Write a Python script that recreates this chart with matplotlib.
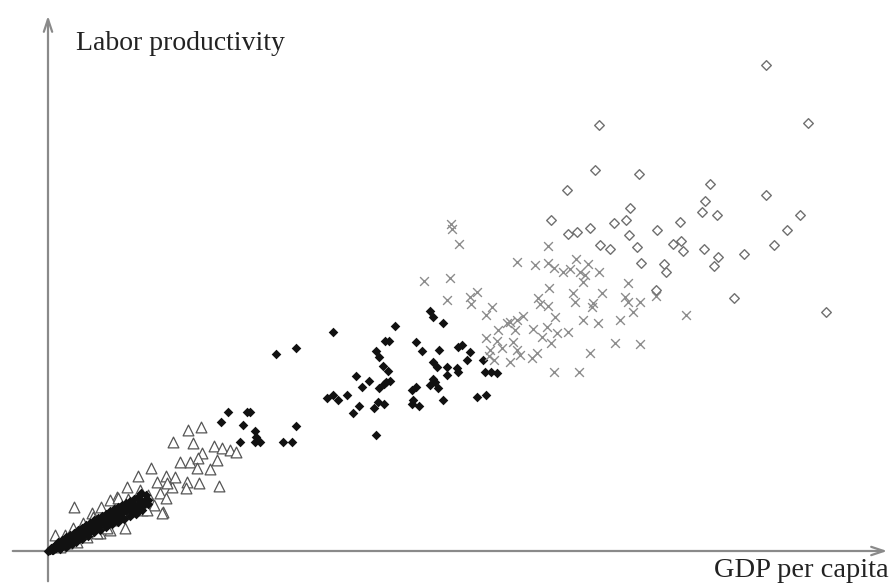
import matplotlib
matplotlib.use("Agg")
import matplotlib.pyplot as plt

# Data (GDP per capita, labor productivity) in arbitrary units
open_diamond_x = [718, 551, 760, 547, 591, 519, 662, 718, 657, 654, 669, 752, 503, 582, 578, 566, 542, 520, 529, 609,
                  632, 581, 739, 552, 562, 589, 625, 633, 635, 656, 670, 666, 696, 726, 593, 616, 618, 608, 686, 778]
open_diamond_y = [486, 426, 428, 381, 377, 361, 367, 356, 350, 339, 336, 336, 331, 343, 331, 328, 323, 317, 319, 321,
                  329, 316, 321, 306, 302, 304, 307, 310, 300, 302, 294, 285, 297, 306, 288, 287, 279, 261, 253, 239]

cross_x = [403, 404, 411, 500, 469, 487, 500, 506, 528, 540, 515, 522, 532, 537, 551, 535, 376, 402, 580, 501,
           554, 525, 429, 422, 399, 423, 490, 492, 500, 527, 544, 545, 577, 580, 592, 608, 585, 638, 444, 438,
           535, 550, 572, 507, 462, 469, 475, 450, 467, 485, 499, 509, 520, 438, 449, 465, 494, 503, 442, 454,
           469, 472, 489, 484, 441, 446, 462, 567, 592, 542, 506, 531, 459]
cross_y = [327, 322, 307, 305, 289, 286, 288, 283, 292, 287, 279, 282, 279, 276, 279, 269, 270, 273, 268, 263,
           258, 258, 259, 254, 251, 247, 253, 247, 245, 249, 244, 248, 254, 249, 249, 255, 239, 236, 244, 236,
           231, 228, 231, 234, 229, 231, 235, 221, 221, 222, 224, 218, 219, 213, 210, 209, 214, 208, 201, 203,
           201, 196, 198, 193, 195, 191, 189, 208, 207, 198, 179, 179, 228]

filled_x = [382, 385, 395, 347, 285, 248, 228, 337, 341, 368, 374, 391, 410, 414, 422, 419, 328, 331, 335, 340,
            338, 342, 336, 331, 308, 321, 314, 385, 389, 399, 409, 410, 399, 385, 387, 382, 390, 368, 364, 435,
            437, 443, 449, 279, 285, 290, 299, 311, 305, 326, 330, 336, 365, 364, 371, 395, 429, 438, 328, 248,
            235, 244, 207, 208, 207, 212, 202, 180, 199, 173, 195, 192,
            0, 2, 3, 4, 5, 6, 7, 8, 9, 10, 11, 12, 13, 14, 15, 16, 17, 18, 19, 20,
            21, 22, 23, 24, 25, 26, 27, 28, 29, 30, 31, 32, 33, 34, 35, 36, 37, 38, 39, 40,
            41, 42, 44, 45, 46, 47, 48, 50, 51, 52, 54, 55, 56, 58, 59, 60, 62, 63, 65, 66,
            68, 70, 72, 74, 76, 78, 80, 83, 86, 88, 91, 94, 97, 100, 70, 75, 85, 90, 60, 50,
            40, 30, 20, 92, 64, 57, 43, 36, 26,
            10, 14, 18, 22, 26, 30, 34, 38, 42, 46, 50, 54, 58, 62, 66, 70, 74, 78, 82, 86,
            90, 12, 18, 24, 28, 34, 40, 46, 52, 58, 64, 70, 76, 82, 88, 94, 84, 78, 72, 66,
            56, 44, 32, 22, 16, 8, 5, 96, 100, 98, 93]
filled_y = [240, 234, 228, 225, 219, 203, 197, 210, 210, 209, 200, 201, 204, 206, 199, 191, 200, 194, 185, 180,
            169, 170, 167, 163, 175, 170, 164, 189, 184, 184, 183, 179, 176, 172, 169, 166, 163, 164, 161, 191,
            179, 179, 178, 153, 156, 151, 156, 145, 138, 143, 149, 147, 151, 147, 145, 151, 154, 156, 116, 125,
            109, 109, 120, 114, 109, 109, 139, 139, 139, 129, 126, 109,
            0, 1, 3, 1, 4, 2, 5, 3, 6, 4, 7, 5, 8, 6, 9, 7, 11, 8, 12, 9,
            13, 10, 15, 12, 16, 13, 17, 14, 19, 15, 20, 16, 22, 18, 21, 19, 24, 20, 25, 22,
            26, 23, 27, 24, 29, 25, 30, 27, 31, 28, 33, 30, 34, 31, 36, 32, 37, 34, 38, 35,
            40, 37, 41, 38, 43, 40, 44, 42, 46, 43, 48, 45, 50, 47, 30, 33, 38, 40, 28, 24,
            18, 12, 6, 52, 36, 32, 23, 17, 11,
            9, 11, 14, 16, 18, 21, 23, 26, 28, 31, 33, 35, 37, 40, 42, 44, 46, 48, 50, 52,
            54, 2, 4, 7, 9, 12, 15, 19, 21, 24, 27, 29, 32, 35, 37, 41, 47, 44, 35, 31,
            27, 21, 15, 11, 9, 6, 1, 47, 51, 56, 58]

triangle_x = [140, 153, 125, 145, 166, 174, 182, 188, 154, 142, 150, 132, 169, 162, 149, 103, 90, 118, 109, 139,
              151, 124, 138, 171, 79, 92, 69, 62, 80, 100, 112, 118, 104, 94, 115, 106, 53, 26, 44, 77,
              62, 52, 7, 114, 127, 119, 65, 45, 35, 25, 17, 12, 19, 29, 39, 49, 59, 82, 99, 70]
triangle_y = [121, 124, 109, 108, 105, 103, 101, 99, 98, 89, 93, 89, 91, 82, 83, 83, 75, 75, 69, 69,
              68, 64, 63, 65, 64, 61, 54, 51, 52, 56, 58, 53, 48, 41, 39, 46, 44, 44, 38, 23,
              21, 18, 16, 38, 74, 68, 31, 34, 28, 23, 16, 4, 8, 9, 14, 18, 23, 46, 41, 53]

fig = plt.figure(figsize=(8.92, 5.84), dpi=100)
ax = fig.add_axes([0, 0, 1, 1])
ax.set_xlim(-48, 844)
ax.set_ylim(-33, 551)
ax.axis("off")

axis_col = "#8a8a8a"
ax.annotate("", xy=(842, 0), xytext=(-38, 0),
            arrowprops=dict(arrowstyle="->,head_length=0.9,head_width=0.3", color=axis_col, lw=1.6))
ax.annotate("", xy=(0, 538), xytext=(0, -33),
            arrowprops=dict(arrowstyle="->,head_length=0.9,head_width=0.3", color=axis_col, lw=1.6))

ax.scatter(triangle_x, triangle_y, marker="^", s=60, facecolors="white", edgecolors="#555555", linewidths=0.9, zorder=3)
ax.scatter(filled_x, filled_y, marker="D", s=24, color="#111111", linewidths=0, zorder=4)
ax.scatter(cross_x, cross_y, marker="x", s=40, color="#8c8c8c", linewidths=1.0, zorder=5)
ax.scatter(open_diamond_x, open_diamond_y, marker="D", s=24, facecolors="white", edgecolors="#707070", linewidths=1.0, zorder=5)

ax.text(28, 501, "Labor productivity", fontfamily="Liberation Serif", fontsize=20, va="baseline", ha="left", color="#222222")
ax.text(841, -26, "GDP per capita", fontfamily="Liberation Serif", fontsize=20.5, va="baseline", ha="right", color="#222222")

fig.savefig("out.png", dpi=100)
